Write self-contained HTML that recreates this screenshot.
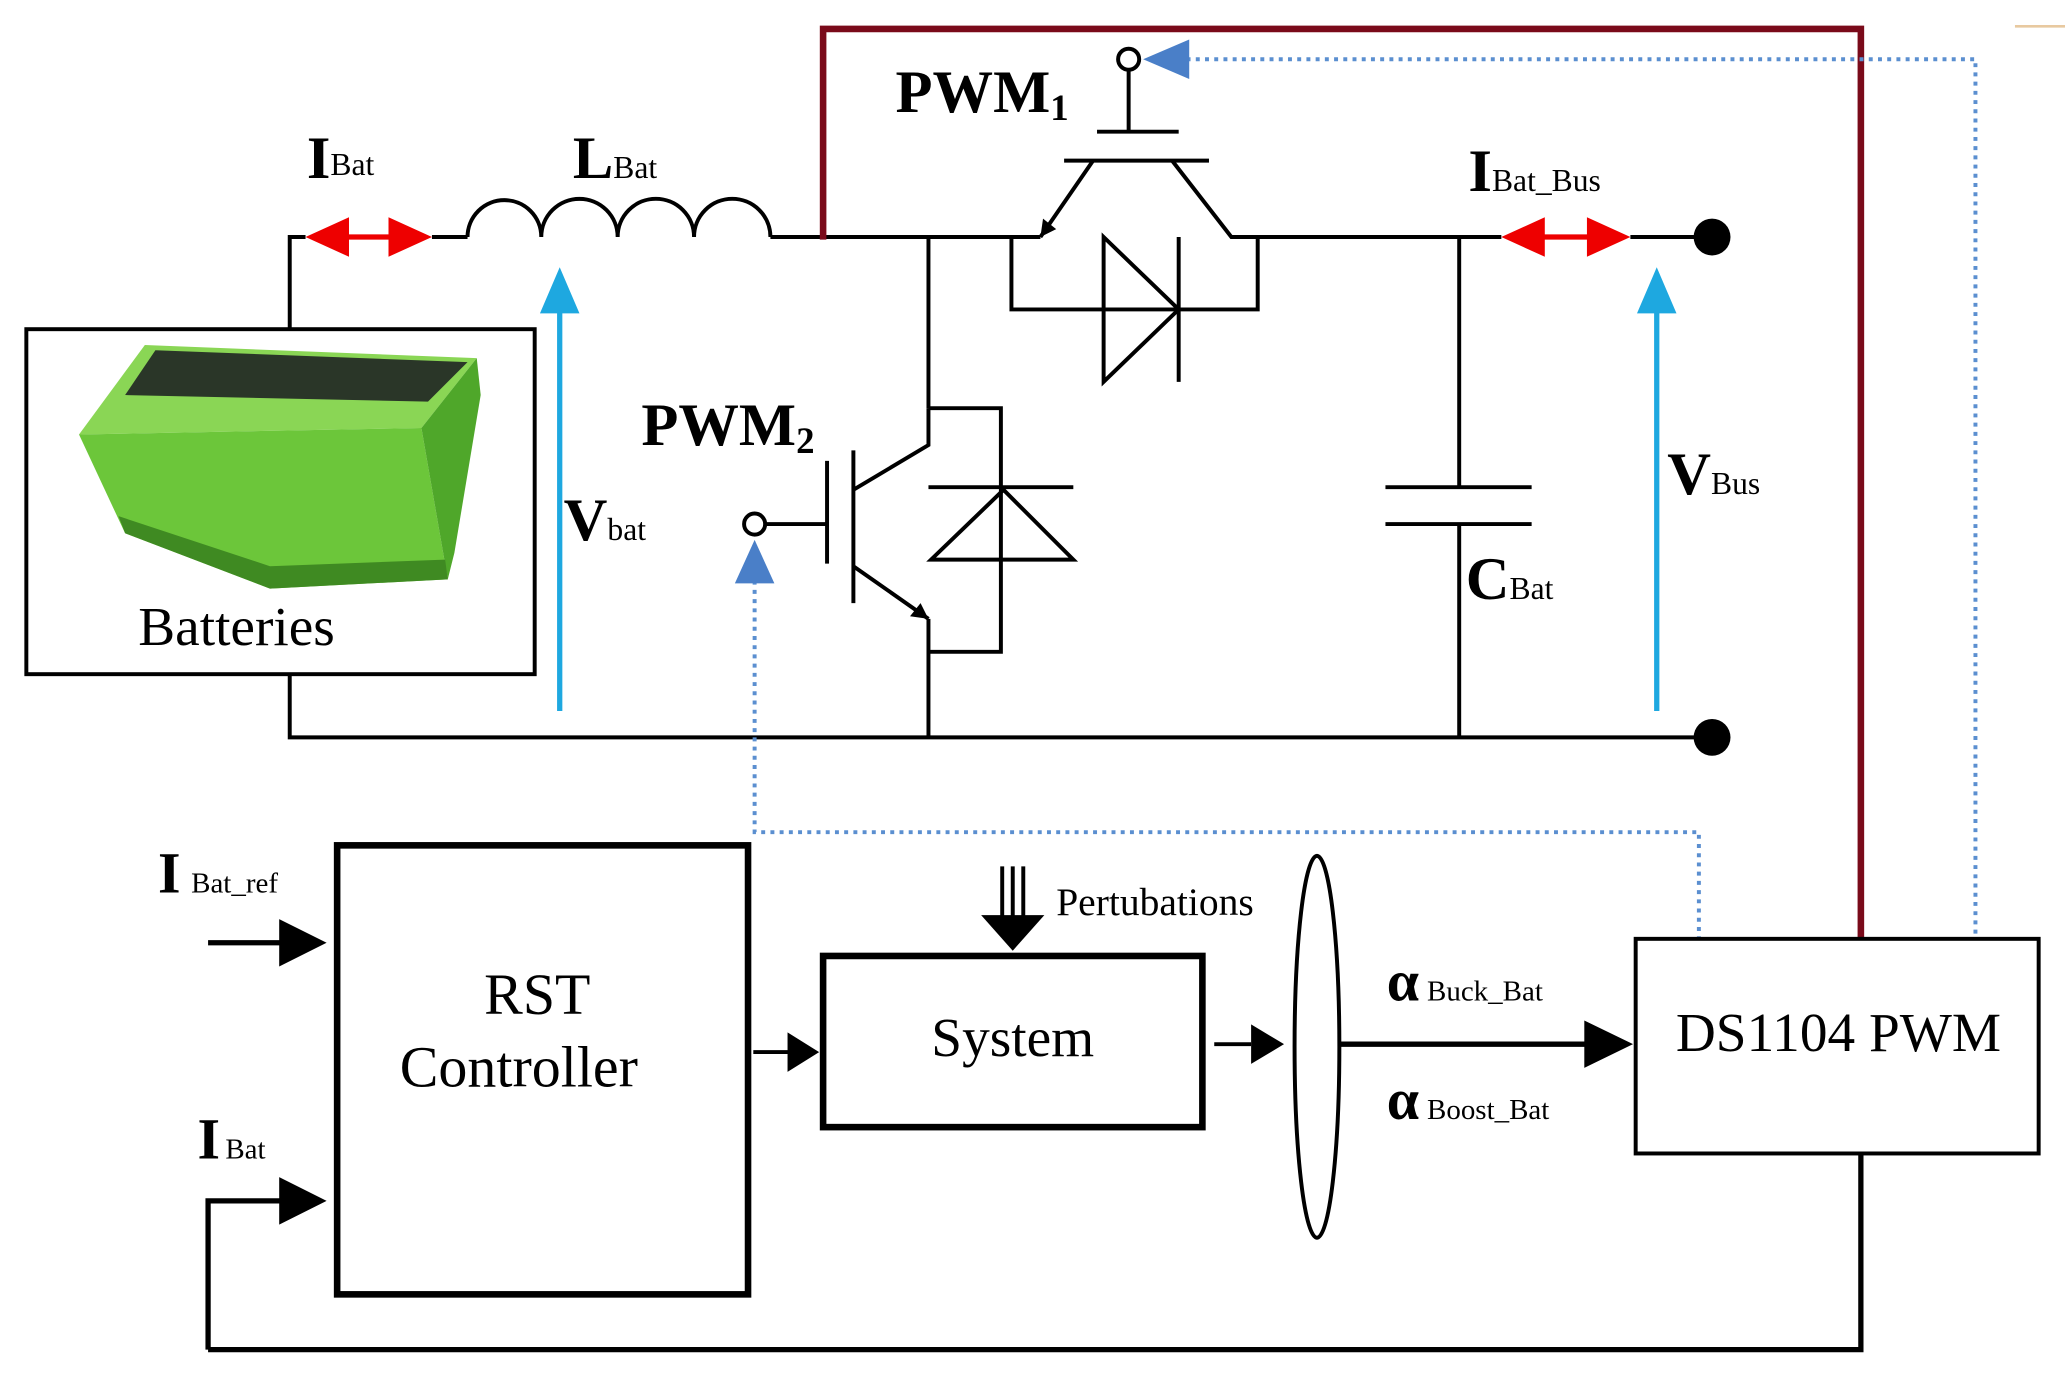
<!DOCTYPE html>
<html><head><meta charset="utf-8"><style>
html,body{margin:0;padding:0;background:#fff;}
svg{display:block;}
text{font-family:"Liberation Serif",serif;}
</style></head><body>
<svg width="2065" height="1376" viewBox="0 0 1568 1045" preserveAspectRatio="none" xmlns="http://www.w3.org/2000/svg">
<g fill="none" stroke="#000" stroke-width="3">
<path d="M220,250 V180 H232"/>
<path d="M328,180 H355"/>
<path d="M355,180 a28,28 0 0 1 56,0 a28,28 0 0 1 58,0 a28,28 0 0 1 58,0 a28,28 0 0 1 58,0" />
<path d="M585,180 H790"/>
<path d="M220,512 V560 H1300"/>
<path d="M705,180 V310 M705,470 V560"/>
<path d="M573,398 H628 M628,350 V428"/>
<path d="M648,342 V458 M648,372 L705,338 V310 M648,430 L705,470"/>
<path d="M705,310 H760 V495 H705"/>
<path d="M707,425 H815 L762,372 Z M705,370 H815"/>
<path d="M857,50 V100 M833,100 H895 M808,122 H918"/>
<path d="M830,122 L790,180 M890,122 L935,180 H1140"/>
<path d="M768,180 V235 H955 V180"/>
<path d="M838,180 V290 L895,235 Z M895,180 V290"/>
<path d="M1108,180 V370 M1052,370 H1163 M1052,398 H1163 M1108,398 V560"/>
<path d="M1238,180 H1300"/>
</g>
<path d="M790,180 l2,-14 l10,8 z" fill="#000"/>
<path d="M705,470 l-14,-2 l8,-10 z" fill="#000"/>
<circle cx="857" cy="45" r="8" fill="#fff" stroke="#000" stroke-width="3"/>
<circle cx="573" cy="398" r="8" fill="#fff" stroke="#000" stroke-width="3"/>
<circle cx="1300" cy="180" r="14" fill="#000"/>
<circle cx="1300" cy="560" r="14" fill="#000"/>
<path d="M232,180 L265,165 V195 Z M328,180 L295,165 V195 Z" fill="#e00"/>
<path d="M262,180 H298" stroke="#e00" stroke-width="4"/>
<path d="M1140,180 L1173,165 V195 Z M1238,180 L1205,165 V195 Z" fill="#e00"/>
<path d="M1170,180 H1208" stroke="#e00" stroke-width="4"/>
<path d="M425,540 V230 M1258,540 V230" stroke="#1ea8e0" stroke-width="4"/>
<path d="M425,203 L410,238 H440 Z M1258,203 L1243,238 H1273 Z" fill="#1ea8e0"/>
<path d="M625,182 V22 H1413 V713" fill="none" stroke="#7a0a1a" stroke-width="5"/>
<path d="M880,45 H1500 V713 M573,420 V632 H1290 V713" fill="none" stroke="#5b8fd0" stroke-width="3" stroke-dasharray="3,4"/>
<path d="M868,45 L903,30 V60 Z" fill="#4a7fc8"/>
<path d="M573,410 L558,443 H588 Z" fill="#4a7fc8"/>
<path d="M1530,20 H1568" stroke="#e8c9a0" stroke-width="2"/>
<rect x="20" y="250" width="386" height="262" fill="#fff" stroke="#000" stroke-width="3"/>
<!-- battery -->
<path d="M60,330 L110,262 L362,272 L320,325 Z" fill="#8ad655"/>
<path d="M118,266 L355,275 L325,305 L95,300 Z" fill="#2a3628"/>
<path d="M60,330 L320,325 L340,440 L205,447 L95,405 Z" fill="#6cc63a"/>
<path d="M320,325 L362,272 L365,300 L345,420 L340,440 Z" fill="#4fa72a"/>
<path d="M95,405 L205,447 L340,440 L338,425 L205,430 L90,392 Z" fill="#3f8a22"/>
<text x="105" y="490" font-size="42">Batteries</text>
<g font-weight="bold">
<text x="233" y="135" font-size="46">I<tspan font-size="24" font-weight="normal" dy="-2">Bat</tspan></text>
<text x="435" y="135" font-size="46">L<tspan font-size="24" font-weight="normal">Bat</tspan></text>
<text x="680" y="85" font-size="46">PWM<tspan font-size="28" dy="6">1</tspan></text>
<text x="487" y="338" font-size="46">PWM<tspan font-size="28" dy="6">2</tspan></text>
<text x="428" y="410" font-size="46">V<tspan font-size="24" font-weight="normal">bat</tspan></text>
<text x="1115" y="145" font-size="46">I<tspan font-size="24" font-weight="normal">Bat_Bus</tspan></text>
<text x="1266" y="375" font-size="46">V<tspan font-size="24" font-weight="normal">Bus</tspan></text>
<text x="1113" y="455" font-size="46">C<tspan font-size="24" font-weight="normal">Bat</tspan></text>
<text x="120" y="678" font-size="44">I<tspan font-size="22" font-weight="normal" dx="8">Bat_ref</tspan></text>
<text x="150" y="880" font-size="44">I<tspan font-size="22" font-weight="normal" dx="4">Bat</tspan></text>
<text x="1053" y="760" font-size="44">α<tspan font-size="22" font-weight="normal" dx="6">Buck_Bat</tspan></text>
<text x="1053" y="850" font-size="44">α<tspan font-size="22" font-weight="normal" dx="6">Boost_Bat</tspan></text>
</g>
<rect x="256" y="642" width="312" height="341" fill="none" stroke="#000" stroke-width="5"/>
<text x="408" y="770" font-size="44" text-anchor="middle">RST</text>
<text x="394" y="825" font-size="44" text-anchor="middle">Controller</text>
<rect x="625" y="726" width="288" height="130" fill="none" stroke="#000" stroke-width="5"/>
<text x="769" y="802" font-size="42" text-anchor="middle">System</text>
<rect x="1242" y="713" width="306" height="163" fill="none" stroke="#000" stroke-width="3"/>
<text x="1396" y="798" font-size="42" text-anchor="middle">DS1104 PWM</text>
<text x="802" y="695" font-size="30">Pertubations</text>
<ellipse cx="1000" cy="795" rx="17" ry="145" fill="none" stroke="#000" stroke-width="3"/>
<g stroke="#000" fill="none">
<path d="M158,716 H215" stroke-width="4"/>
<path d="M158,1025 V912 H215 M1413,876 V1025 H158" stroke-width="4"/>
<path d="M572,799 H600" stroke-width="3"/>
<path d="M922,793 H950" stroke-width="3"/>
<path d="M1017,793 H1205" stroke-width="4"/>
<path d="M761,658 V700 M769,658 V700 M777,658 V700" stroke-width="3"/>
</g>
<path d="M248,716 L212,698 V734 Z M248,912 L212,894 V930 Z M1240,793 L1203,775 V811 Z" fill="#000"/>
<path d="M622,799 L598,784 V814 Z M975,793 L950,778 V808 Z" fill="#000"/>
<path d="M745,695 H793 L769,722 Z" fill="#000"/>
</svg>
</body></html>
